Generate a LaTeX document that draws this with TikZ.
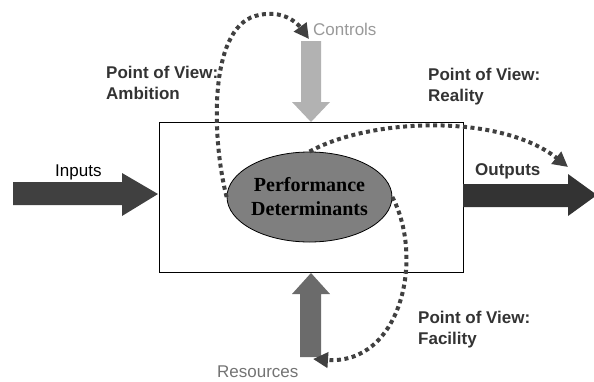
\documentclass[tikz,border=0pt]{standalone}
\usepackage{fontspec}
\setmainfont{Liberation Sans}
\newfontfamily\serifbold{Liberation Serif}
\usetikzlibrary{shapes.geometric,arrows.meta}
\definecolor{dotc}{HTML}{404040}
\definecolor{labc}{HTML}{333333}
\definecolor{inc}{HTML}{404040}
\definecolor{outc}{HTML}{333333}
\definecolor{ctrlc}{HTML}{B2B2B2}
\definecolor{ctrlt}{HTML}{999999}
\definecolor{resc}{HTML}{6B6B6B}
\definecolor{rest}{HTML}{737373}
\definecolor{ellc}{HTML}{7F7F7F}
\tikzset{
  pov/.style={font=\fontsize{17}{21}\selectfont\bfseries, text=labc, align=left, anchor=west, inner sep=0pt},
  lab/.style={font=\fontsize{17}{20}\selectfont, anchor=west, inner sep=0pt},
  dotline/.style={draw=dotc, line width=4pt, dash pattern=on 4pt off 3.5pt, -{Triangle[length=15pt,width=15pt]}},
  frame/.style={draw=black, line width=1pt, fill=white}
}
\begin{document}
\begin{tikzpicture}[x=1pt,y=-1pt]
\useasboundingbox (0,0) rectangle (594,381);
% process box
\draw[frame] (159,122) rectangle (463,272);
% inputs arrow
\fill[inc] (13,182) -- (122,182) -- (122,173) -- (158,194) -- (122,216) -- (122,205) -- (13,205) -- cycle;
% outputs arrow
\fill[outc] (463,184) -- (568,184) -- (568,174) -- (597,195) -- (568,216) -- (568,207) -- (463,207) -- cycle;
% controls arrow
\fill[ctrlc] (301,41) -- (321,41) -- (321,102) -- (330,102) -- (311,122) -- (292,102) -- (301,102) -- cycle;
% resources arrow
\fill[resc] (300,357) -- (321,357) -- (321,294) -- (330,294) -- (311,273) -- (292,294) -- (300,294) -- cycle;
% ellipse
\node[ellipse, draw=black, line width=0.8pt, fill=ellc, minimum width=129pt, minimum height=90pt, inner sep=0pt, align=center,
  font=\serifbold\fontsize{20}{24}\selectfont\bfseries] (pd) at (309.5,197) {Performance\\Determinants};
% labels
\node[lab] (in) at (55,172) {Inputs};
\node[lab, font=\fontsize{17}{20}\selectfont\bfseries, text=labc] (out) at (475,171) {Outputs};
\node[lab, text=ctrlt] (ctl) at (313,29) {Controls};
\node[lab, text=rest] (res) at (217,372) {Resources};
\node[pov] (amb) at (106,82.5) {Point of View:\\Ambition};
\node[pov] (rea) at (428,87) {Point of View:\\Reality};
\node[pov] (fac) at (418,330) {Point of View:\\Facility};
% dotted connectors
\coordinate (ctltop) at (309,39);
\coordinate (outtip) at (568,167);
\coordinate (resbot) at (313,359);
\draw[dotline] (pd.west) .. controls (212,140) and (208,30) .. (255,16) .. controls (283,8) and (298,24) .. (ctltop);
\draw[dotline] (pd.north) .. controls (370,118) and (500,113) .. (outtip);
\draw[dotline] (pd.east) .. controls (425,260) and (400,365) .. (resbot);
\end{tikzpicture}
\end{document}
